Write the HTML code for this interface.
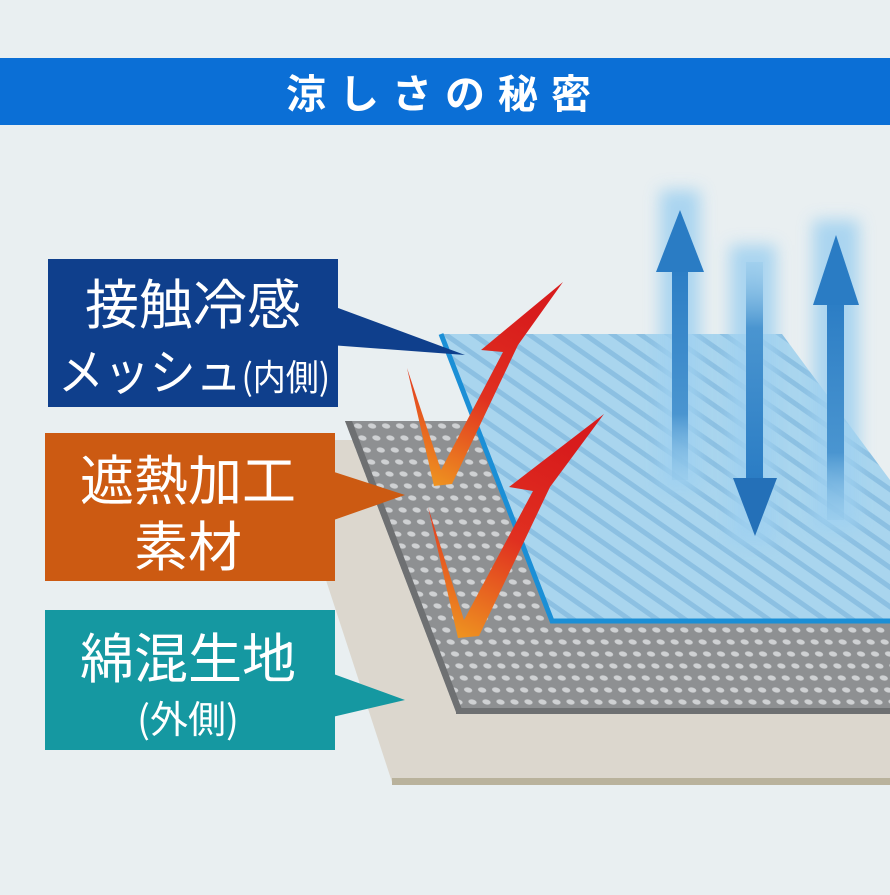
<!DOCTYPE html>
<html><head><meta charset="utf-8"><style>
html,body{margin:0;padding:0;}
body{width:890px;height:890px;overflow:hidden;background:#e9eff1;}
svg text{font-family:"Noto Sans CJK JP",sans-serif;fill:#fff;}
</style></head><body>
<svg width="890" height="890" viewBox="0 0 890 890" xmlns="http://www.w3.org/2000/svg">
<defs>
<pattern id="dots" width="14" height="12" patternUnits="userSpaceOnUse" patternTransform="skewX(20)">
<rect width="14" height="12" fill="#8e9092"/>
<ellipse cx="7" cy="6" rx="4" ry="2.6" fill="#cfd1d3"/>
</pattern>
<pattern id="mesh" width="16" height="16" patternUnits="userSpaceOnUse" patternTransform="rotate(35)">
<rect width="16" height="16" fill="#a9d5ee"/>
<rect width="16" height="5" fill="#8cc0e2"/>
</pattern>
<linearGradient id="chk" x1="0" y1="1" x2="0.4" y2="0">
<stop offset="0" stop-color="#f0a020"/><stop offset="0.55" stop-color="#e03020"/><stop offset="1" stop-color="#d81c1c"/>
</linearGradient>
<linearGradient id="shU" x1="0" y1="0" x2="0" y2="1">
<stop offset="0" stop-color="#2a7cc4"/><stop offset="0.7" stop-color="#4a95d0"/><stop offset="1" stop-color="#8cc4e8" stop-opacity="0.3"/>
</linearGradient>
<linearGradient id="shD" x1="0" y1="1" x2="0" y2="0">
<stop offset="0" stop-color="#2a7cc4"/><stop offset="0.7" stop-color="#4a95d0"/><stop offset="1" stop-color="#8cc4e8" stop-opacity="0.3"/>
</linearGradient>
<filter id="blur"><feGaussianBlur stdDeviation="8"/></filter>
</defs>

<rect x="0" y="58" width="890" height="67" fill="#0b6fd6"/>
<text x="445" y="108" font-size="40" text-anchor="middle" letter-spacing="13" font-weight="bold">涼しさの秘密</text>

<polygon points="330,440 830,440 890,520 890,782 392,782 323,571 300,500" fill="#dcd7ce"/>
<rect x="392" y="778" width="498" height="7" fill="#b9b29c"/>
<polygon points="345,421 840,421 890,490 890,712 456,712" fill="url(#dots)"/>
<polygon points="345,421 352,421 463,712 456,712" fill="#6e7072"/>
<rect x="456" y="708" width="434" height="6" fill="#6e7072"/>
<polygon points="441,334 782,334 890,480 890,621 552,621" fill="url(#mesh)"/>
<polyline points="441,334 552,621 890,621" fill="none" stroke="#1b8fd6" stroke-width="5"/>

<g filter="url(#blur)" opacity="0.85" fill="#9fd0f0">
<rect x="660" y="190" width="40" height="300"/>
<rect x="730" y="245" width="46" height="300"/>
<rect x="813" y="220" width="46" height="310"/>
</g>
<rect x="672" y="260" width="16" height="220" fill="url(#shU)"/>
<polygon points="680,210 656,272 704,272" fill="#2a7cc4"/>
<rect x="746" y="262" width="17" height="220" fill="url(#shD)"/>
<polygon points="733,478 777,478 755,536" fill="#2470b8"/>
<rect x="827" y="295" width="17" height="225" fill="url(#shU)"/>
<polygon points="836,235 813,305 859,305" fill="#2a7cc4"/>

<polygon points="407,368 441,470 503,352 481,350 563,282 518,345 452,484 434,486" fill="url(#chk)"/>
<polygon points="428,507 464,620 533,491 509,487 604,414 550,487 479,636 458,638" fill="url(#chk)"/>

<polygon points="330,305 465,355 330,345" fill="#0f3f8c"/>
<rect x="48" y="259" width="290" height="148" fill="#0f3f8c"/>
<text x="193" y="324" font-size="54" text-anchor="middle">接触冷感</text>
<text x="58" y="390" font-size="50" textLength="272" lengthAdjust="spacingAndGlyphs">メッシュ<tspan font-size="36">(内側)</tspan></text>

<polygon points="328,470 405,495 328,522" fill="#cc5a12"/>
<rect x="45" y="433" width="290" height="148" fill="#cc5a12"/>
<text x="188" y="500" font-size="54" text-anchor="middle">遮熱加工</text>
<text x="188" y="566" font-size="54" text-anchor="middle">素材</text>

<polygon points="328,672 405,700 328,718" fill="#1598a1"/>
<rect x="45" y="610" width="290" height="140" fill="#1598a1"/>
<text x="188" y="678" font-size="54" text-anchor="middle">綿混生地</text>
<text x="188" y="733" font-size="38" text-anchor="middle">(外側)</text>
</svg>
</body></html>
